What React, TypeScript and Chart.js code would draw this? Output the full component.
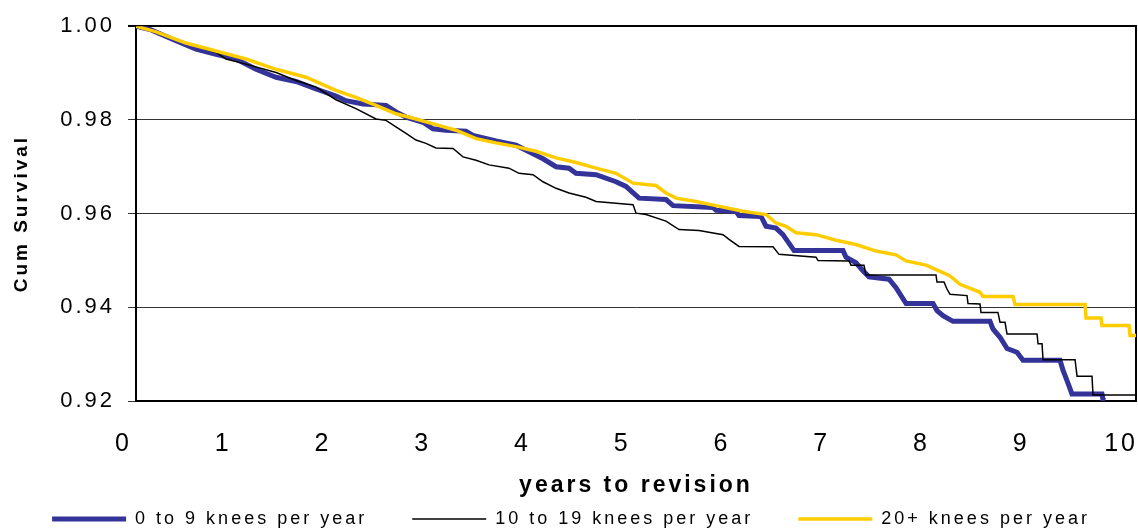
import React, { useEffect, useRef } from 'react';
import { Chart, registerables } from 'chart.js';

Chart.register(...registerables);

const FONT = '"Liberation Sans", Arial, Helvetica, sans-serif';

// ---- data (years to revision, cumulative survival) ----
const seriesLabels = ['0 to 9 knees per year', '10 to 19 knees per year', '20+ knees per year'];

const yearsLow = [0.125, 0.265, 0.526, 0.727, 0.927, 1.128, 1.328, 1.529, 1.729, 1.93, 2.13, 2.23, 2.401, 2.631, 2.731, 2.832, 3.002, 3.102, 3.233, 3.433, 3.503, 3.734, 3.935, 4.065, 4.205, 4.336, 4.466, 4.536, 4.737, 4.937, 5.037, 5.168, 5.438, 5.509, 5.909, 5.94, 6.14, 6.17, 6.391, 6.441, 6.541, 6.611, 6.722, 7.213, 7.243, 7.343, 7.413, 7.473, 7.674, 7.744, 7.845, 8.115, 8.155, 8.215, 8.315, 8.686, 8.716, 8.787, 8.857, 8.957, 9.017, 9.388, 9.418, 9.468, 9.508, 9.809, 9.819, 9.839];
const survivalLow = [1.0, 0.9993, 0.9969, 0.9951, 0.994, 0.993, 0.9908, 0.9891, 0.9882, 0.9866, 0.9851, 0.9841, 0.9834, 0.9831, 0.9817, 0.9806, 0.9795, 0.9781, 0.9778, 0.9776, 0.9767, 0.9755, 0.9746, 0.9732, 0.9717, 0.97, 0.9697, 0.9686, 0.9683, 0.9668, 0.9658, 0.9633, 0.963, 0.9617, 0.9613, 0.9607, 0.9605, 0.9596, 0.9594, 0.9573, 0.9569, 0.9555, 0.9521, 0.9521, 0.9507, 0.9495, 0.9478, 0.9465, 0.946, 0.9442, 0.9408, 0.9408, 0.9393, 0.9382, 0.937, 0.937, 0.9354, 0.9336, 0.9312, 0.9304, 0.9287, 0.9287, 0.9266, 0.9238, 0.9215, 0.9215, 0.9203, 0.9201];

const yearsMid = [0.125, 0.326, 0.526, 0.727, 0.927, 1.027, 1.228, 1.529, 1.729, 1.93, 2.13, 2.33, 2.531, 2.631, 2.731, 2.832, 2.932, 3.032, 3.132, 3.303, 3.403, 3.534, 3.664, 3.864, 3.965, 4.105, 4.205, 4.336, 4.466, 4.636, 4.737, 4.937, 5.108, 5.138, 5.238, 5.438, 5.569, 5.769, 6.01, 6.07, 6.17, 6.511, 6.571, 6.942, 6.962, 7.273, 7.293, 7.423, 7.443, 8.145, 8.155, 8.225, 8.255, 8.285, 8.456, 8.466, 8.586, 8.596, 8.766, 8.787, 8.837, 8.857, 9.158, 9.168, 9.208, 9.218, 9.539, 9.559, 9.709, 9.719, 10.15];
const survivalMid = [1.0, 0.9986, 0.9971, 0.9957, 0.9944, 0.993, 0.9919, 0.9901, 0.9884, 0.987, 0.9843, 0.9824, 0.9802, 0.9799, 0.9785, 0.9771, 0.9757, 0.975, 0.974, 0.9739, 0.9721, 0.9714, 0.9704, 0.9697, 0.9686, 0.9683, 0.9668, 0.9654, 0.9644, 0.9635, 0.9626, 0.9622, 0.9619, 0.9601, 0.9598, 0.9584, 0.9566, 0.9564, 0.9555, 0.9545, 0.953, 0.9529, 0.9513, 0.9507, 0.95, 0.9499, 0.949, 0.949, 0.9469, 0.9469, 0.9454, 0.9454, 0.9439, 0.9428, 0.9425, 0.9408, 0.9407, 0.9389, 0.9389, 0.9368, 0.9368, 0.9343, 0.9343, 0.9322, 0.9322, 0.9288, 0.9288, 0.9253, 0.9253, 0.9213, 0.9213];

const yearsHigh = [0.125, 0.326, 0.626, 0.927, 1.228, 1.529, 1.829, 2.13, 2.33, 2.531, 2.731, 2.932, 3.132, 3.333, 3.534, 3.734, 3.935, 4.135, 4.336, 4.536, 4.737, 4.937, 5.108, 5.338, 5.438, 5.539, 5.739, 5.94, 6.21, 6.441, 6.541, 6.641, 6.742, 6.942, 7.143, 7.343, 7.544, 7.744, 7.845, 8.045, 8.215, 8.285, 8.386, 8.586, 8.616, 8.917, 8.937, 9.639, 9.649, 9.799, 9.809, 10.08, 10.09, 10.15];
const survivalHigh = [1.0, 0.9988, 0.9964, 0.9947, 0.993, 0.9908, 0.9891, 0.9863, 0.9848, 0.9831, 0.9813, 0.9802, 0.979, 0.9778, 0.976, 0.9751, 0.9743, 0.9733, 0.9719, 0.9709, 0.9697, 0.9686, 0.9665, 0.966, 0.9644, 0.9633, 0.9626, 0.9617, 0.9605, 0.9598, 0.958, 0.9573, 0.9559, 0.9555, 0.9543, 0.9534, 0.952, 0.9512, 0.9499, 0.949, 0.9474, 0.9467, 0.9449, 0.9432, 0.9423, 0.9423, 0.9406, 0.9406, 0.9377, 0.9377, 0.9361, 0.9361, 0.934, 0.934];

const xTickValues = [0, 1, 2, 3, 4, 5, 6, 7, 8, 9, 10];
const yTickValues = [0.92, 0.94, 0.96, 0.98, 1.0];

const xTitle = 'years to revision';
const yTitle = 'Cum Survival';

const toPoints = (xs: number[], ys: number[]) => xs.map((x, i) => ({ x, y: ys[i] }));

const letterSpacingPlugin = {
  id: 'letterSpacing',
  beforeUpdate(chart: any) {
    chart.ctx.letterSpacing = '3px';
  },
  beforeDraw(chart: any) {
    chart.ctx.letterSpacing = '3px';
  },
};

export default function App() {
  const canvasRef = useRef<HTMLCanvasElement | null>(null);

  useEffect(() => {
    document.body.style.margin = '0';
    document.body.style.overflow = 'hidden';
    const canvas = canvasRef.current;
    if (!canvas) return;

    const line = (label: string, data: any[], color: string, width: number, order: number) => ({
      label,
      data,
      borderColor: color,
      backgroundColor: color,
      borderWidth: width,
      pointBorderColor: color,
      pointBackgroundColor: color,
      pointBorderWidth: width,
      pointRadius: 0,
      pointHoverRadius: 0,
      tension: 0,
      borderJoinStyle: 'miter',
      fill: false,
      order,
    });

    const chart = new Chart(canvas, {
      type: 'line',
      data: {
        datasets: [
          line(seriesLabels[0], toPoints(yearsLow, survivalLow), '#333399', 5, 3),
          line(seriesLabels[1], toPoints(yearsMid, survivalMid), '#000000', 1.5, 2),
          line(seriesLabels[2], toPoints(yearsHigh, survivalHigh), '#FFCC00', 3.5, 1),
        ],
      },
      plugins: [letterSpacingPlugin],
      options: {
        responsive: false,
        animation: false,
        devicePixelRatio: 1,
        events: [],
        layout: { padding: { left: -30, right: -34, top: 23, bottom: -6 } },
        plugins: {
          tooltip: { enabled: false },
          legend: {
            display: true,
            position: 'bottom',
            align: 'center',
            labels: {
              usePointStyle: true,
              pointStyle: 'line',
              pointStyleWidth: 74,
              padding: 45,
              color: '#000',
              font: { family: FONT, size: 18 },
              sort: (a: any, b: any) => a.datasetIndex - b.datasetIndex,
            },
          },
        },
        scales: {
          x: {
            type: 'linear',
            min: 0.125,
            max: 10.15,
            afterBuildTicks: (s: any) => {
              s.ticks = xTickValues.map((v) => ({ value: v }));
            },
            afterFit: (s: any) => {
              s.height = 64;
            },
            grid: {
              display: true,
              drawOnChartArea: false,
              drawTicks: true,
              tickLength: 28,
              tickColor: 'rgba(0,0,0,0)',
            },
            border: { display: true, color: '#000', width: 2 },
            ticks: {
              autoSkip: false,
              maxRotation: 0,
              padding: 0,
              color: '#000',
              font: { family: FONT, size: 25 },
              callback: (v: any) => String(v),
            },
            title: {
              display: true,
              text: xTitle,
              color: '#000',
              font: { family: FONT, size: 23, weight: 'bold' },
              padding: { top: 0, bottom: -34 },
            },
          },
          y: {
            type: 'linear',
            position: 'left',
            min: 0.92,
            max: 1.0,
            afterBuildTicks: (s: any) => {
              s.ticks = yTickValues.map((v) => ({ value: v }));
            },
            afterFit: (s: any) => {
              s.width = 166;
            },
            grid: {
              display: true,
              drawTicks: true,
              tickLength: 8,
              color: (c: any) => (c.tick && c.tick.value === 1 ? '#000' : '#333'),
              lineWidth: (c: any) => (c.tick && c.tick.value === 1 ? 2 : 1),
            },
            border: { display: true, color: '#000', width: 2 },
            ticks: {
              padding: 13,
              color: '#000',
              font: { family: FONT, size: 22 },
              callback: (v: any) => Number(v).toFixed(2),
            },
            title: {
              display: true,
              text: yTitle,
              color: '#000',
              font: { family: FONT, size: 19, weight: 'bold' },
              padding: { top: 40.6, bottom: 0 },
            },
          },
          y2: {
            type: 'linear',
            position: 'right',
            display: true,
            afterFit: (s: any) => {
              s.width = 36;
            },
            grid: { display: false, drawTicks: false },
            ticks: { display: false },
            border: { display: true, color: '#000', width: 2 },
          },
        },
      } as any,
    });

    return () => {
      chart.destroy();
    };
  }, []);

  return (
    <div style={{ width: 1138, height: 532, background: '#fff' }}>
      <canvas ref={canvasRef} width={1138} height={532} style={{ display: 'block' }} />
    </div>
  );
}
